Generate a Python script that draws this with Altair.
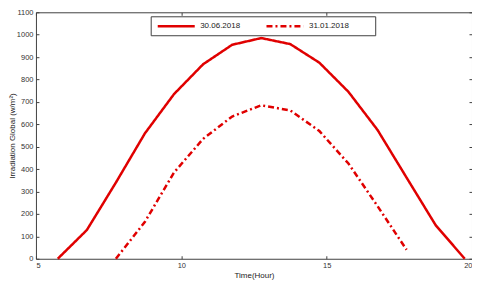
import altair as alt
import pandas as pd

series = ["30.06.2018", "31.01.2018"]
hours_jun = [5.75, 6.75, 7.75, 8.75, 9.75, 10.75, 11.75, 12.75, 13.75, 14.75, 15.75, 16.75, 17.75, 18.75, 19.75]
irr_jun = [0, 128, 340, 560, 735, 868, 955, 985, 958, 875, 745, 575, 362, 150, 0]
hours_jan = [7.75, 8.75, 9.75, 10.75, 11.75, 12.75, 13.75, 14.75, 15.75, 16.75, 17.75]
irr_jan = [0, 165, 385, 535, 635, 685, 662, 570, 425, 235, 40]
x_ticks = [5, 10, 15, 20]
y_ticks = [0, 100, 200, 300, 400, 500, 600, 700, 800, 900, 1000, 1100]

df = pd.concat([
    pd.DataFrame({"hour": hours_jun, "irr": irr_jun, "series": series[0]}),
    pd.DataFrame({"hour": hours_jan, "irr": irr_jan, "series": series[1]}),
])

RED = "#e00000"
AX = "#404040"

x_scale = alt.Scale(domain=[5, 20], nice=False, zero=False)
y_scale = alt.Scale(domain=[0, 1100], nice=False)

leg = alt.Legend(title="\u00a0", titleOrient="right", titlePadding=22)

lines = alt.Chart(df).mark_line(strokeWidth=2.5).encode(
    x=alt.X("hour:Q", scale=x_scale,
            axis=alt.Axis(orient="bottom", values=x_ticks, format="d", title="Time(Hour)",
                          grid=True, gridDash=[3, 2000], ticks=False,
                          labelPadding=3, titlePadding=2)),
    y=alt.Y("irr:Q", scale=y_scale,
            axis=alt.Axis(orient="left", values=y_ticks, format="d",
                          title="Irradiation Global (w/m²)",
                          grid=True, gridDash=[3, 2000], ticks=False,
                          labelPadding=3, titlePadding=0)),
    color=alt.Color("series:N", scale=alt.Scale(domain=series, range=[RED, RED]), legend=leg),
    strokeDash=alt.StrokeDash("series:N",
                              scale=alt.Scale(domain=series, range=[[1, 0], [6, 3, 2, 3]]),
                              legend=leg),
)

frame = alt.Chart(df).mark_line(opacity=0).encode(
    x=alt.X("hour:Q", scale=x_scale,
            axis=alt.Axis(orient="top", values=x_ticks, title=None, labels=False,
                          grid=True, gridDash=[3, 2000], ticks=False)),
    y=alt.Y("irr:Q", scale=y_scale,
            axis=alt.Axis(orient="right", values=y_ticks, title=None, labels=False,
                          grid=True, gridDash=[3, 2000], ticks=False)),
    detail="series:N",
)

chart = alt.layer(lines, frame).resolve_axis(x="independent", y="independent").properties(
    width=437, height=247,
    autosize=alt.AutoSizeParams(type="none"),
    padding={"left": 28, "top": 4, "right": 0, "bottom": 28},
    background="white",
).configure_view(stroke=None).configure_axis(
    domainColor=AX, domainWidth=1, gridColor=AX, gridWidth=1, gridOpacity=1,
    labelFont="Liberation Sans", labelFontSize=7.5, labelColor="#333333",
    titleFont="Liberation Sans", titleFontSize=8, titleFontWeight="normal", titleColor="#222222",
).configure_legend(
    orient="none", legendX=115, legendY=4, direction="horizontal",
    strokeColor=AX, fillColor="white", padding=4, cornerRadius=0,
    symbolType="M-4,0H4", symbolSize=86, symbolStrokeWidth=2.5,
    symbolOffset=15.6,
    labelFont="Liberation Sans", labelFontSize=8, labelColor="#222222",
    labelOffset=18, columnPadding=21,
    titleFontSize=8,
)

chart.save("out.html", embed_options={"renderer": "svg", "actions": False})
